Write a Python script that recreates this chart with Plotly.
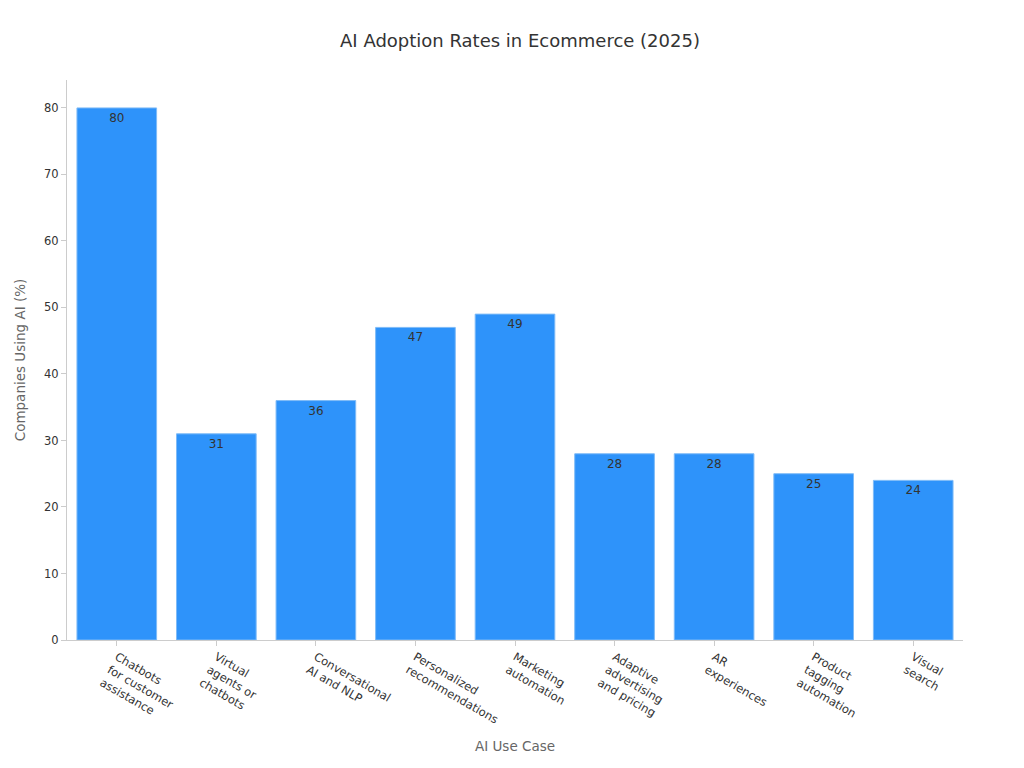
import plotly.graph_objects as go

use_cases = [
    "Chatbots<br>for customer<br>assistance",
    "Virtual<br>agents or<br>chatbots",
    "Conversational<br>AI and NLP",
    "Personalized<br>recommendations",
    "Marketing<br>automation",
    "Adaptive<br>advertising<br>and pricing",
    "AR<br>experiences",
    "Product<br>tagging<br>automation",
    "Visual<br>search",
]
adoption = [80, 31, 36, 47, 49, 28, 28, 25, 24]

fig = go.Figure(go.Bar(
    x=use_cases, y=adoption,
    text=adoption, textposition="inside", insidetextanchor="end",
    textfont=dict(color="#333333", size=12),
    marker=dict(color="#2E93FA", line=dict(color="#7FBBF7", width=1)),
))

fig.update_layout(
    width=1024, height=768,
    font=dict(family="DejaVu Sans", color="#333333", size=11.5),
    title=dict(text="AI Adoption Rates in Ecommerce (2025)", x=0.5, y=0.965,
               font=dict(size=18, color="#333333")),
    plot_bgcolor="white", paper_bgcolor="white",
    margin=dict(l=52, r=69, t=72, b=136),
    bargap=0.2,
    showlegend=False,
)
fig.update_xaxes(title=dict(text="AI Use Case", font=dict(color="#666666", size=13.5)),
                 tickangle=30, showline=True, linecolor="#cccccc",
                 ticks="outside", tickcolor="#cccccc", ticklen=5)
fig.update_yaxes(title=dict(text="Companies Using AI (%)", font=dict(color="#666666", size=13.5)),
                 range=[0, 84.2], dtick=10, showgrid=False, zeroline=False,
                 showline=True, linecolor="#cccccc",
                 ticks="outside", tickcolor="#cccccc", ticklen=5)

fig.write_html("out.html")
